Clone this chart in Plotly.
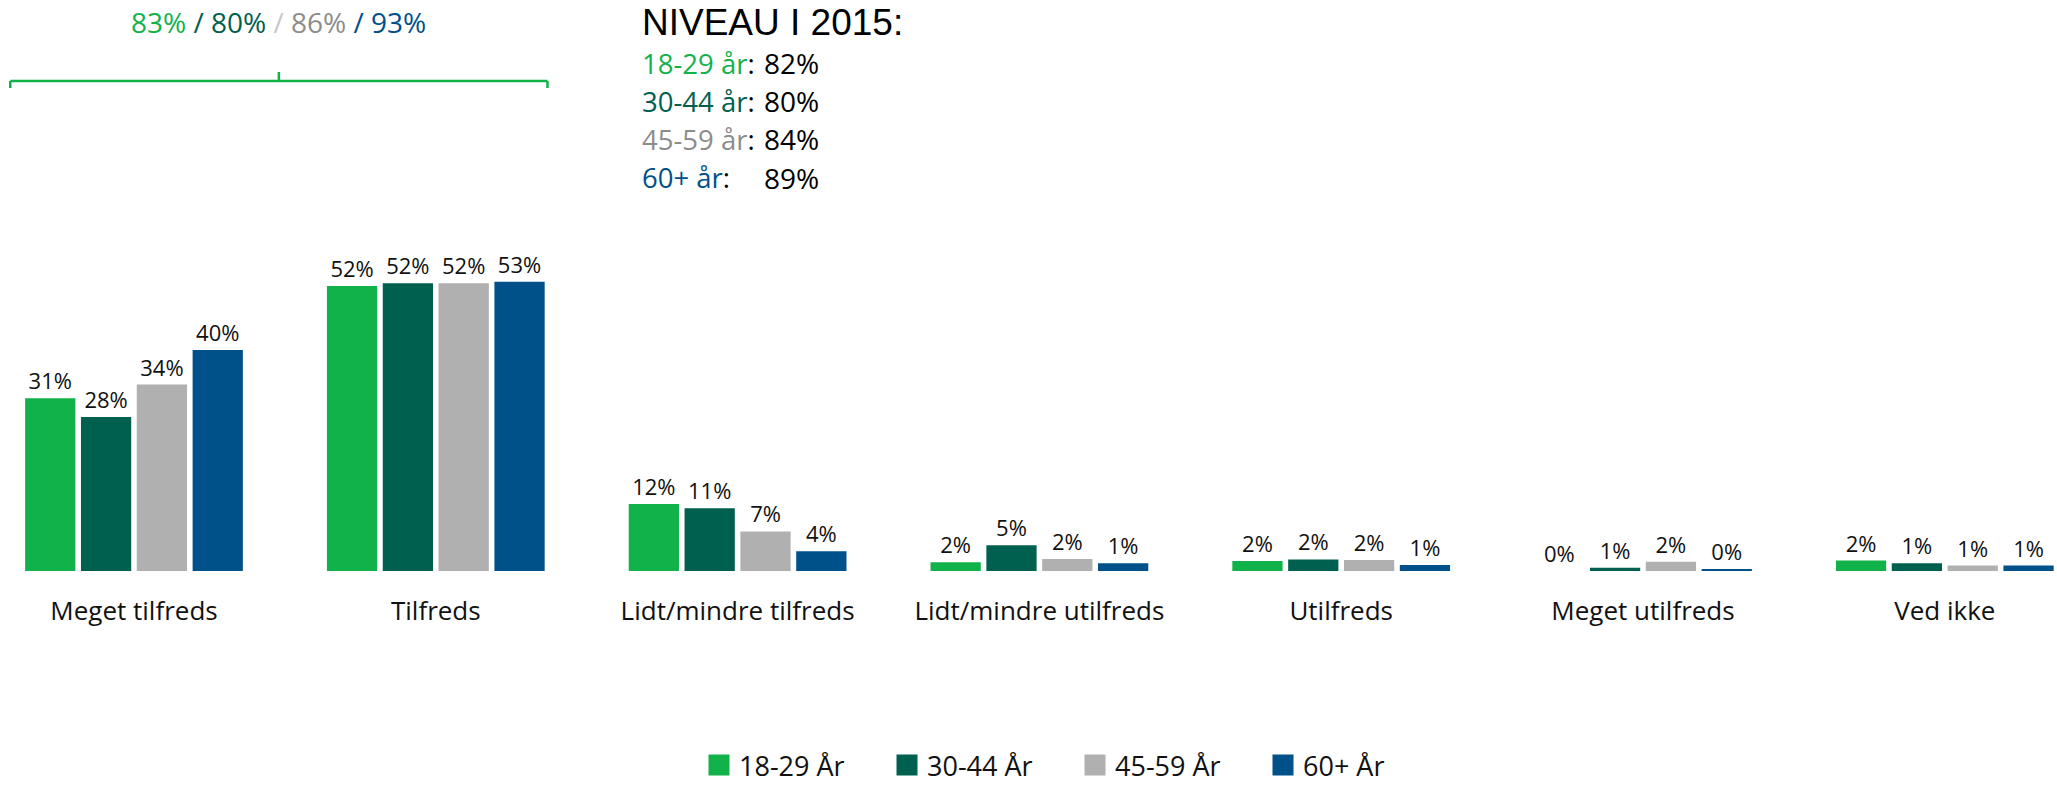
import plotly.graph_objects as go

# ---------------- data ----------------
categories = ["Meget tilfreds", "Tilfreds", "Lidt/mindre tilfreds",
              "Lidt/mindre utilfreds", "Utilfreds", "Meget utilfreds", "Ved ikke"]
series_names = ["18-29 År", "30-44 År", "45-59 År", "60+ År"]
values_18_29 = [31.4, 51.8, 12.2, 1.6, 1.8, 0.0, 1.9]
values_30_44 = [28.0, 52.3, 11.4, 4.7, 2.1, 0.6, 1.4]
values_45_59 = [33.9, 52.3, 7.2, 2.2, 2.0, 1.7, 1.0]
values_60 = [40.2, 52.6, 3.6, 1.4, 1.1, 0.3, 1.0]
series_values = [values_18_29, values_30_44, values_45_59, values_60]

level_labels = ["18-29 år", "30-44 år", "45-59 år", "60+ år"]
level_2015 = [82, 80, 84, 89]

# ---------------- style ----------------
colors = ["#12B24B", "#00604F", "#B0B0B0", "#00508A"]
text_colors = ["#12B24B", "#00604F", "#8C8C8C", "#00508A"]
FONT = "Open Sans"
W, H = 2057, 790
PLOT_BOTTOM = 571
PX_PER_PCT = 5.5
BARGAP = 0.26

fig = go.Figure()
for name, vals, col in zip(series_names, series_values, colors):
    fig.add_trace(go.Bar(
        x=categories, y=vals, name=name, showlegend=False,
        marker=dict(color=col, line=dict(width=0)),
        texttemplate="%{y:.0f}%", textposition="outside",
        textfont=dict(family=FONT, size=22, color="#111111"),
        cliponaxis=False, hoverinfo="skip",
    ))
# legend entries (large square swatches)
for name, col in zip(series_names, colors):
    fig.add_trace(go.Scatter(
        x=[None], y=[None], name=name, mode="markers", showlegend=True,
        marker=dict(symbol="square", size=16, color=col, line=dict(color=col, width=5)),
        hoverinfo="skip",
    ))

# bracket over the first two categories + combined totals
half = (1 - BARGAP) / 2
bx0, bx1 = 0 - half - 0.04, 1 + half
bxc = (bx0 + bx1) / 2
y_line = 1 - 81 / PLOT_BOTTOM
y_end = 1 - 88 / PLOT_BOTTOM
y_tick = 1 - 72 / PLOT_BOTTOM
bracket_col = "#12B24B"
for (xa, ya, xb, yb) in [(bx0, y_end, bx0, y_line), (bx0, y_line, bx1, y_line),
                         (bx1, y_line, bx1, y_end), (bxc, y_line, bxc, y_tick)]:
    fig.add_shape(type="line", xref="x", yref="paper", x0=xa, y0=ya, x1=xb, y1=yb,
                  line=dict(color=bracket_col, width=2.5))

totals = [round(v[0] + v[1]) for v in series_values]
top_txt = (f"<span style='color:{text_colors[0]}'>{totals[0]}%</span>"
           f"<span style='color:{text_colors[1]}'> / {totals[1]}%</span>"
           f"<span style='color:#C8C8C8'> / </span>"
           f"<span style='color:{text_colors[2]}'>{totals[2]}%</span>"
           f"<span style='color:{text_colors[3]}'> / {totals[3]}%</span>")
fig.add_annotation(x=bxc, xref="x", y=1 - 22 / PLOT_BOTTOM, yref="paper",
                   text=top_txt, showarrow=False, xanchor="center", yanchor="middle",
                   font=dict(family=FONT, size=28))

# NIVEAU I 2015 block
fig.add_annotation(x=640 / W, xref="paper", y=1 - 23 / PLOT_BOTTOM, yref="paper",
                   text="NIVEAU I 2015:", showarrow=False, xanchor="left", yanchor="middle",
                   font=dict(family="Liberation Sans", size=37, color="#000000"))
for i, (lab, val, col) in enumerate(zip(level_labels, level_2015, text_colors)):
    ypx = 63 + 38.2 * i
    fig.add_annotation(x=640 / W, xref="paper", y=1 - ypx / PLOT_BOTTOM, yref="paper",
                       text=f"<span style='color:{col}'>{lab}</span>:", showarrow=False,
                       xanchor="left", yanchor="middle",
                       font=dict(family=FONT, size=27.5, color="#000000"))
    fig.add_annotation(x=762 / W, xref="paper", y=1 - ypx / PLOT_BOTTOM, yref="paper",
                       text=f"{val}%", showarrow=False, xanchor="left", yanchor="middle",
                       font=dict(family=FONT, size=28, color="#000000"))

spacing = 301.8
first_center = 134.0
fig.update_layout(
    width=W, height=H,
    margin=dict(l=0, r=0, t=0, b=H - PLOT_BOTTOM, pad=0),
    paper_bgcolor="white", plot_bgcolor="white",
    barmode="group", bargap=BARGAP, bargroupgap=0.1,
    showlegend=True,
    legend=dict(orientation="h", xref="container", x=699 / W, xanchor="left",
                yref="container", y=0, yanchor="bottom",
                font=dict(family=FONT, size=27, color="#111111"),
                entrywidth=143, entrywidthmode="pixels",
                bgcolor="rgba(0,0,0,0)"),
    xaxis=dict(range=[-first_center / spacing, (W - first_center) / spacing],
               showgrid=False, zeroline=False, showline=False, ticks="",
               tickfont=dict(family=FONT, size=26, color="#111111"),
               ticklabelstandoff=22, fixedrange=True, automargin=False),
    yaxis=dict(range=[0, PLOT_BOTTOM / PX_PER_PCT], visible=False, fixedrange=True),
    font=dict(family=FONT),
)

fig.write_html("out.html", config={"displayModeBar": False},
               post_script="document.body.style.margin='0';")
